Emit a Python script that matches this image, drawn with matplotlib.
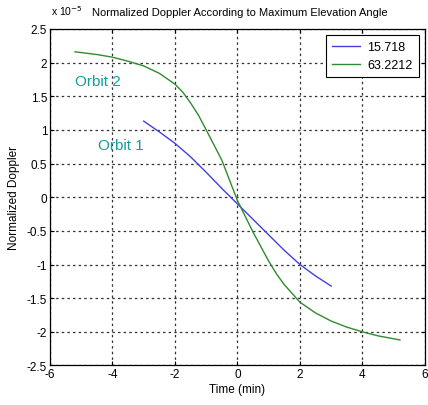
import numpy as np
import matplotlib
matplotlib.use("Agg")
import matplotlib.pyplot as plt

plt.rcParams['font.family'] = ['Liberation Sans', 'DejaVu Sans']

# values, doppler in units of 1e-5
t_orbit1 = [-3.0, -2.5, -2.0, -1.5, -1.0, -0.5, 0.0, 0.5, 1.0, 1.5, 2.0, 2.5, 3.0]
d_orbit1 = [1.13, 0.97, 0.80, 0.60, 0.37, 0.13, -0.10, -0.33, -0.56, -0.79, -1.00, -1.17, -1.32]

t_orbit2 = [-5.2, -4.5, -4.0, -3.5, -3.0, -2.5, -2.0, -1.75, -1.5, -1.25, -1.0, -0.5, 0.0,
            0.5, 1.0, 1.25, 1.5, 2.0, 2.5, 3.0, 3.5, 4.0, 4.5, 5.2]
d_orbit2 = [2.16, 2.12, 2.08, 2.02, 1.95, 1.84, 1.68, 1.56, 1.40, 1.22, 1.00, 0.55, -0.05,
            -0.52, -0.95, -1.14, -1.30, -1.56, -1.72, -1.84, -1.93, -2.00, -2.06, -2.12]

labels = ['15.718', '63.2212']
xticks = [-6, -4, -2, 0, 2, 4, 6]
yticks = [-2.5, -2, -1.5, -1, -0.5, 0, 0.5, 1, 1.5, 2, 2.5]

fig = plt.figure(figsize=(4.28, 4.06), dpi=100)
ax = fig.add_axes([0.1168, 0.0973, 0.876, 0.829])

ax.plot(t_orbit1, d_orbit1, color='#4040e0', lw=1.0, label=labels[0])
ax.plot(t_orbit2, d_orbit2, color='#2e8b2e', lw=1.0, label=labels[1])

ax.set_xlim(-6, 6)
ax.set_ylim(-2.5, 2.5)
ax.set_xticks(xticks)
ax.set_yticks(yticks)
ax.set_xticklabels([str(v) for v in xticks])
ax.set_yticklabels(['%g' % v for v in yticks])
ax.tick_params(direction='in', top=True, right=True, labelsize=8.5, length=3, pad=2)
ax.grid(True, color='#333333', linestyle=(0, (2, 2.5)), linewidth=0.9)
for s in ax.spines.values():
    s.set_linewidth(0.9)

ax.text(-4.45, 0.78, 'Orbit 1', color='#1a9a9a', fontsize=11, va='center')
ax.text(-5.2, 1.72, 'Orbit 2', color='#1a9a9a', fontsize=11, va='center')

ax.set_xlabel('Time (min)', fontsize=8.5, labelpad=2)
ax.set_ylabel('Normalized Doppler', fontsize=8.5, labelpad=5)
fig.text(0.118, 0.955, r'x 10$^{-5}$', fontsize=7.5, va='bottom')
fig.text(0.56, 0.955, 'Normalized Doppler According to Maximum Elevation Angle',
         fontsize=8, ha='center', va='bottom')

leg = ax.legend(loc='upper right', fontsize=9, fancybox=False, framealpha=1,
                edgecolor='black', handlelength=2.2, borderpad=0.5,
                labelspacing=0.45, borderaxespad=0.5, handletextpad=0.6)
leg.get_frame().set_linewidth(0.8)

plt.savefig('out.png', dpi=100)
